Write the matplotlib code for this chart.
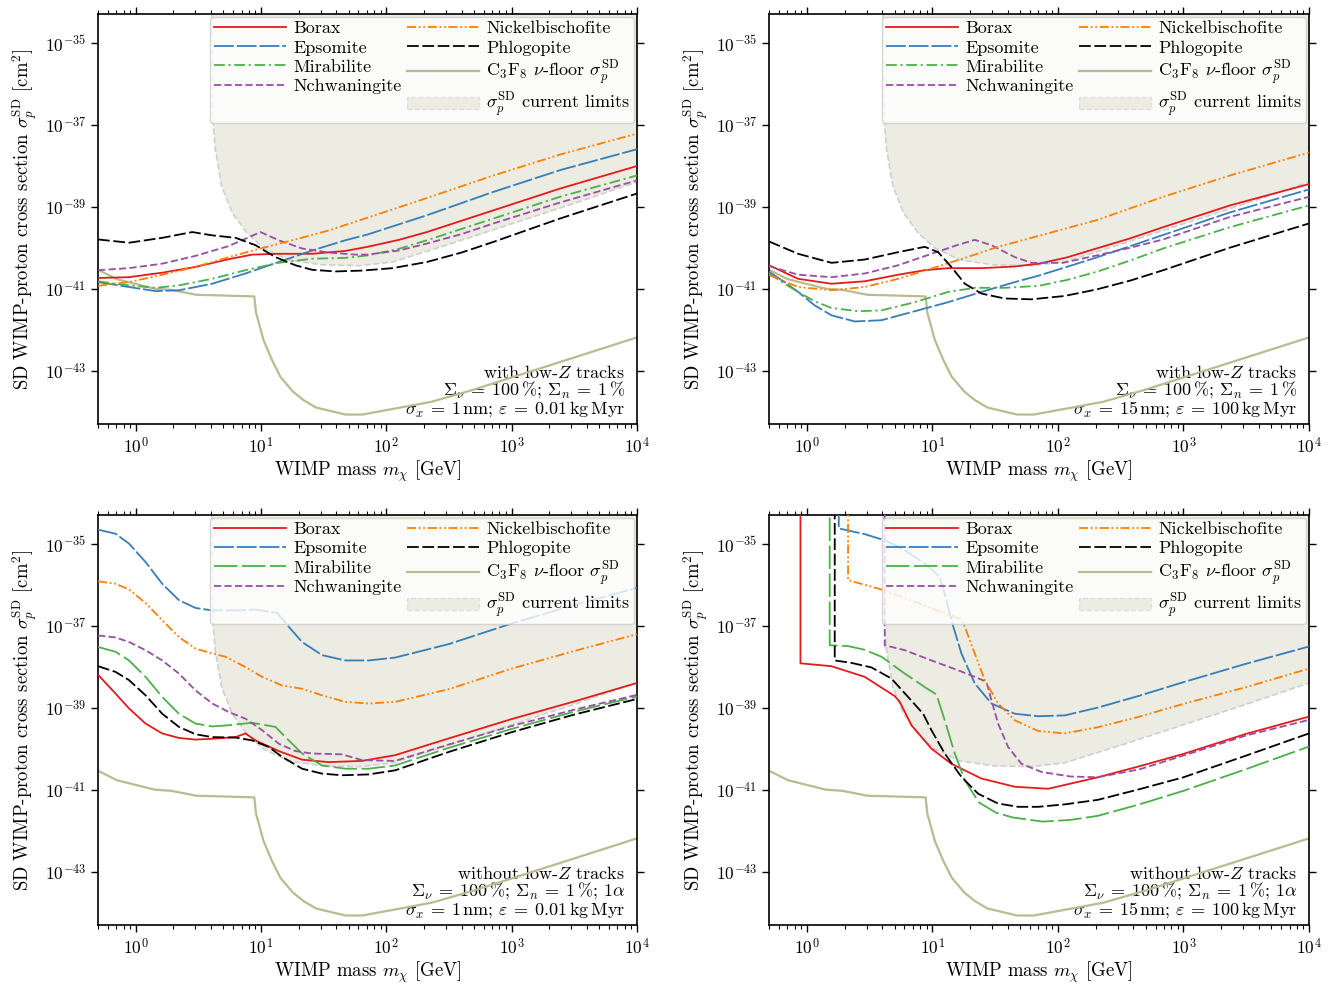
import numpy as np
import matplotlib
matplotlib.use('Agg')
import matplotlib.pyplot as plt
from matplotlib.patches import Patch
from matplotlib.ticker import NullLocator, LogLocator

# valores: log10(masa/GeV) y log10(sigma/cm^2)
TOP = -33.0  # por encima del limite del eje (lineas verticales)

floor_logm = [-0.30, -0.15, 0.15, 0.285, 0.485, 0.62, 0.947, 0.96, 1.02, 1.088, 1.155, 1.255, 1.34, 1.44, 1.674, 1.81, 2.36, 2.69, 4.0]
floor_logs = [-40.54, -40.77, -41.0, -41.03, -41.15, -41.16, -41.19, -41.58, -42.25, -42.74, -43.15, -43.51, -43.72, -43.90, -44.07, -44.07, -43.76, -43.47, -42.19]

lim_logm = [0.600, 0.609, 0.612, 0.619, 0.636, 0.686, 0.77, 0.887, 1.02, 1.22, 1.49, 1.79, 2.05, 2.5, 3.0, 3.5, 4.0]
lim_logs = [-33.0, -34.28, -35.5, -37.0, -37.61, -38.50, -39.15, -39.64, -40.01, -40.30, -40.42, -40.44, -40.35, -39.92, -39.42, -38.92, -38.40]

# arriba izquierda: con trazas low-Z, 1 nm, 0.01 kg Myr
tl_borax = [[-0.30, -0.053, 0.213, 0.478, 0.744, 0.93, 1.142, 1.408, 1.673, 1.85, 2.1, 2.324, 2.855, 3.386, 4.0],
            [-40.74, -40.72, -40.61, -40.47, -40.28, -40.17, -40.15, -40.15, -40.08, -39.98, -39.81, -39.62, -39.09, -38.56, -38.01]]
tl_epsomite = [[-0.30, -0.053, 0.159, 0.345, 0.611, 0.876, 1.142, 1.408, 1.673, 1.85, 2.324, 2.855, 3.386, 4.0],
               [-40.84, -40.96, -41.06, -41.04, -40.88, -40.63, -40.35, -40.07, -39.82, -39.68, -39.21, -38.64, -38.11, -37.60]]
tl_mirabilite = [[-0.30, -0.16, -0.053, 0.159, 0.345, 0.611, 0.876, 1.142, 1.408, 1.673, 1.85, 2.1, 2.324, 2.855, 3.386, 4.0],
                 [-40.82, -40.88, -40.92, -40.98, -40.92, -40.76, -40.55, -40.37, -40.27, -40.25, -40.19, -40.03, -39.82, -39.29, -38.76, -38.24]]
tl_nchwaningite = [[-0.30, -0.053, 0.213, 0.478, 0.744, 0.996, 1.142, 1.328, 1.541, 1.753, 1.85, 2.1, 2.324, 2.6, 2.855, 3.386, 4.0],
                   [-40.55, -40.50, -40.39, -40.20, -39.96, -39.62, -39.82, -40.02, -40.12, -40.17, -40.17, -40.07, -39.90, -39.67, -39.41, -38.90, -38.36]]
tl_nickel = [[-0.30, -0.053, 0.213, 0.478, 0.744, 1.009, 1.275, 1.541, 1.85, 2.324, 2.855, 3.386, 4.0],
             [-40.93, -40.84, -40.66, -40.47, -40.23, -40.01, -39.80, -39.58, -39.27, -38.79, -38.24, -37.73, -37.22]]
tl_phlogopite = [[-0.30, -0.053, 0.213, 0.452, 0.611, 0.797, 0.956, 1.115, 1.275, 1.408, 1.594, 1.806, 2.05, 2.324, 2.6, 2.855, 3.386, 4.0],
                 [-39.80, -39.88, -39.76, -39.62, -39.70, -39.76, -39.94, -40.23, -40.43, -40.54, -40.58, -40.56, -40.50, -40.35, -40.12, -39.86, -39.29, -38.68]]

# arriba derecha: con trazas low-Z, 15 nm, 100 kg Myr
tr_borax = [[-0.30, -0.069, 0.197, 0.462, 0.728, 0.94, 1.126, 1.392, 1.657, 1.85, 2.07, 2.308, 2.58, 2.839, 3.371, 4.0],
            [-40.43, -40.76, -40.88, -40.82, -40.66, -40.55, -40.50, -40.50, -40.46, -40.39, -40.24, -40.02, -39.77, -39.50, -38.97, -38.45]]
tr_epsomite = [[-0.30, -0.176, -0.069, 0.064, 0.197, 0.382, 0.595, 0.861, 1.126, 1.392, 1.657, 1.85, 2.07, 2.308, 2.58, 2.839, 3.371, 4.0],
               [-40.59, -40.84, -41.08, -41.41, -41.65, -41.80, -41.77, -41.55, -41.33, -41.08, -40.84, -40.68, -40.47, -40.24, -39.96, -39.69, -39.14, -38.58]]
tr_mirabilite = [[-0.30, -0.176, -0.069, 0.064, 0.197, 0.409, 0.595, 0.861, 1.126, 1.339, 1.577, 1.85, 2.07, 2.308, 2.58, 2.839, 3.371, 4.0],
                 [-40.63, -40.88, -41.08, -41.31, -41.47, -41.55, -41.53, -41.33, -41.08, -40.98, -40.98, -40.93, -40.79, -40.59, -40.31, -40.02, -39.50, -38.97]]
tr_nchwaningite = [[-0.30, -0.069, 0.197, 0.462, 0.728, 0.993, 1.206, 1.339, 1.471, 1.657, 1.79, 2.043, 2.308, 2.58, 2.839, 3.371, 4.0],
                   [-40.45, -40.66, -40.72, -40.63, -40.43, -40.15, -39.93, -39.81, -39.94, -40.23, -40.37, -40.37, -40.19, -40.00, -39.80, -39.25, -38.76]]
tr_nickel = [[-0.30, -0.069, 0.197, 0.462, 0.728, 0.993, 1.259, 1.524, 1.85, 2.308, 2.839, 3.371, 4.0],
             [-40.67, -40.96, -41.04, -40.96, -40.76, -40.51, -40.25, -39.98, -39.71, -39.33, -38.76, -38.24, -37.68]]
tr_phlogopite = [[-0.30, -0.069, 0.197, 0.462, 0.728, 0.94, 1.046, 1.152, 1.259, 1.392, 1.577, 1.79, 2.05, 2.308, 2.58, 2.839, 3.371, 4.0],
                 [-39.85, -40.15, -40.37, -40.29, -40.11, -39.98, -40.11, -40.47, -40.88, -41.12, -41.24, -41.26, -41.18, -41.02, -40.80, -40.55, -40.00, -39.41]]

# abajo izquierda: sin trazas low-Z, 1 nm, 0.01 kg Myr
bl_borax = [[-0.30, -0.16, -0.053, 0.079, 0.212, 0.345, 0.478, 0.611, 0.797, 0.876, 0.956, 1.142, 1.328, 1.54, 1.806, 2.071, 2.5, 3.0, 3.5, 4.0],
            [-38.20, -38.66, -39.02, -39.39, -39.63, -39.74, -39.78, -39.76, -39.72, -39.63, -39.80, -40.06, -40.27, -40.33, -40.30, -40.16, -39.75, -39.28, -38.85, -38.40]]
bl_epsomite = [[-0.30, -0.16, -0.053, 0.079, 0.212, 0.345, 0.478, 0.611, 0.797, 0.956, 1.129, 1.222, 1.328, 1.487, 1.673, 1.859, 2.071, 2.5, 3.0, 3.5, 4.0],
               [-34.66, -34.76, -35.0, -35.45, -35.98, -36.38, -36.57, -36.63, -36.63, -36.61, -36.69, -37.03, -37.40, -37.72, -37.85, -37.85, -37.78, -37.45, -36.95, -36.50, -36.08]]
bl_mirabilite = [[-0.30, -0.16, -0.053, 0.079, 0.212, 0.345, 0.478, 0.611, 0.744, 0.929, 1.115, 1.222, 1.328, 1.487, 1.673, 1.859, 2.071, 2.5, 3.0, 3.5, 4.0],
                 [-37.52, -37.64, -37.85, -38.25, -38.74, -39.15, -39.39, -39.46, -39.43, -39.37, -39.47, -39.80, -40.12, -40.41, -40.49, -40.49, -40.41, -39.98, -39.52, -39.10, -38.73]]
bl_nchwaningite = [[-0.30, -0.16, -0.053, 0.079, 0.212, 0.345, 0.478, 0.611, 0.744, 0.876, 1.009, 1.142, 1.275, 1.407, 1.646, 1.806, 2.071, 2.5, 3.0, 3.5, 4.0],
                   [-37.24, -37.29, -37.40, -37.60, -37.85, -38.17, -38.58, -38.90, -39.11, -39.27, -39.55, -39.88, -40.06, -40.12, -40.14, -40.28, -40.30, -39.90, -39.45, -39.05, -38.69]]
bl_nickel = [[-0.30, -0.16, -0.053, 0.079, 0.212, 0.345, 0.478, 0.611, 0.717, 0.876, 1.009, 1.168, 1.328, 1.487, 1.673, 1.859, 2.071, 2.5, 3.0, 3.5, 4.0],
             [-35.92, -35.98, -36.12, -36.45, -36.87, -37.28, -37.56, -37.68, -37.76, -38.01, -38.25, -38.46, -38.54, -38.70, -38.86, -38.90, -38.86, -38.55, -38.05, -37.62, -37.21]]
bl_phlogopite = [[-0.30, -0.16, -0.053, 0.079, 0.212, 0.345, 0.478, 0.611, 0.797, 0.929, 1.062, 1.168, 1.328, 1.487, 1.646, 1.859, 2.071, 2.5, 3.0, 3.5, 4.0],
                 [-37.99, -38.13, -38.33, -38.70, -39.15, -39.47, -39.65, -39.72, -39.73, -39.80, -39.96, -40.20, -40.49, -40.61, -40.65, -40.63, -40.53, -40.08, -39.60, -39.17, -38.79]]

# abajo derecha: sin trazas low-Z, 15 nm, 100 kg Myr
br_borax = [[-0.05, -0.05, 0.196, 0.462, 0.701, 0.741, 0.834, 0.993, 1.152, 1.391, 1.657, 1.923, 2.318, 2.65, 3.0, 3.5, 4.0],
            [TOP, -37.92, -37.99, -38.25, -38.72, -38.86, -39.43, -40.0, -40.37, -40.73, -40.93, -40.98, -40.70, -40.43, -40.13, -39.64, -39.22]]
br_epsomite = [[0.255, 0.255, 0.462, 0.621, 0.781, 0.94, 1.059, 1.099, 1.152, 1.232, 1.338, 1.471, 1.657, 1.843, 2.055, 2.318, 2.65, 3.0, 3.5, 4.0],
               [TOP, -34.63, -34.77, -34.92, -35.16, -35.49, -35.81, -36.22, -36.87, -37.68, -38.41, -38.90, -39.15, -39.21, -39.19, -39.00, -38.71, -38.38, -37.93, -37.51]]
br_mirabilite = [[0.183, 0.183, 0.329, 0.462, 0.595, 0.781, 0.94, 1.033, 1.099, 1.179, 1.259, 1.37, 1.506, 1.641, 1.878, 2.1, 2.318, 2.65, 3.0, 3.5, 4.0],
                 [TOP, -37.48, -37.50, -37.59, -37.76, -38.17, -38.50, -38.68, -39.31, -40.12, -40.77, -41.31, -41.56, -41.68, -41.78, -41.74, -41.64, -41.36, -41.03, -40.50, -39.95]]
br_nchwaningite = [[0.621, 0.621, 0.781, 0.993, 1.206, 1.338, 1.431, 1.471, 1.524, 1.604, 1.710, 1.870, 2.1, 2.318, 2.657, 3.0, 3.5, 4.0],
                   [TOP, -37.48, -37.60, -37.85, -38.09, -38.25, -38.37, -38.82, -39.39, -39.96, -40.37, -40.57, -40.68, -40.70, -40.50, -40.17, -39.68, -39.30]]
br_nickel = [[0.329, 0.329, 0.595, 0.860, 1.073, 1.232, 1.259, 1.338, 1.418, 1.524, 1.657, 1.843, 2.055, 2.318, 2.65, 3.0, 3.5, 4.0],
             [TOP, -35.89, -36.12, -36.42, -36.67, -36.85, -37.03, -37.68, -38.33, -38.90, -39.31, -39.57, -39.63, -39.48, -39.22, -38.91, -38.50, -38.05]]
br_phlogopite = [[0.223, 0.223, 0.356, 0.515, 0.674, 0.807, 0.927, 0.993, 1.099, 1.232, 1.365, 1.524, 1.684, 1.843, 2.055, 2.318, 2.65, 3.0, 3.5, 4.0],
                 [TOP, -37.85, -37.91, -38.02, -38.29, -38.74, -39.15, -39.55, -40.12, -40.69, -41.10, -41.34, -41.42, -41.42, -41.36, -41.25, -40.99, -40.70, -40.17, -39.63]]

minerales = ['Borax', 'Epsomite', 'Mirabilite', 'Nchwaningite', 'Nickelbischofite', 'Phlogopite']

linea_sigma = r'$\Sigma_\nu\:=\:100\,\%$; $\Sigma_n\:=\:1\,\%$'
textos = {
    'tl': ['with low-$Z$ tracks', linea_sigma,
           r'$\sigma_x\:=\:1\,\mathrm{nm}$; $\varepsilon\:=\:0.01\,\mathrm{kg\,Myr}$'],
    'tr': ['with low-$Z$ tracks', linea_sigma,
           r'$\sigma_x\:=\:15\,\mathrm{nm}$; $\varepsilon\:=\:100\,\mathrm{kg\,Myr}$'],
    'bl': ['without low-$Z$ tracks', linea_sigma + r'; $1\alpha$',
           r'$\sigma_x\:=\:1\,\mathrm{nm}$; $\varepsilon\:=\:0.01\,\mathrm{kg\,Myr}$'],
    'br': ['without low-$Z$ tracks', linea_sigma + r'; $1\alpha$',
           r'$\sigma_x\:=\:15\,\mathrm{nm}$; $\varepsilon\:=\:100\,\mathrm{kg\,Myr}$'],
}

paneles = {
    'tl': [tl_borax, tl_epsomite, tl_mirabilite, tl_nchwaningite, tl_nickel, tl_phlogopite],
    'tr': [tr_borax, tr_epsomite, tr_mirabilite, tr_nchwaningite, tr_nickel, tr_phlogopite],
    'bl': [bl_borax, bl_epsomite, bl_mirabilite, bl_nchwaningite, bl_nickel, bl_phlogopite],
    'br': [br_borax, br_epsomite, br_mirabilite, br_nchwaningite, br_nickel, br_phlogopite],
}

plt.rcParams['font.family'] = 'serif'
plt.rcParams['font.serif'] = ['cmr10']
plt.rcParams['mathtext.fontset'] = 'cm'
plt.rcParams['axes.formatter.use_mathtext'] = True
plt.rcParams['font.size'] = 13

colores = ['#e41a1c', '#377eb8', '#4daf4a', '#984ea3', '#ff7f00', 'black']
estilos_con = ['-', (0, (11, 1.6)), (0, (6, 2, 1.2, 2)), (0, (4, 1.8)), (0, (5, 1.5, 1, 1.5, 1, 1.5)), (0, (6.5, 2))]
estilos_sin = ['-', (0, (11, 1.6)), (0, (13, 2.5)), (0, (4, 1.8)), (0, (5, 1.5, 1, 1.5, 1, 1.5)), (0, (6.5, 2))]
color_piso = '#bcba90'
color_lim = '#ecece3'

fig = plt.figure(figsize=(13.38, 9.84), dpi=100)
posiciones = {
    'tl': [0.0732, 0.5691, 0.4028, 0.4167],
    'tr': [0.5747, 0.5691, 0.4036, 0.4167],
    'bl': [0.0732, 0.0600, 0.4028, 0.4167],
    'br': [0.5747, 0.0600, 0.4036, 0.4167],
}

for clave, pos in posiciones.items():
    ax = fig.add_axes(pos)
    estilos = estilos_con if clave[0] == 't' else estilos_sin

    # region de limites actuales
    xs = list(10 ** np.array(lim_logm)) + [1e4, 10 ** lim_logm[0]]
    ys = list(10 ** np.array(lim_logs)) + [1e-30, 1e-30]
    ax.fill(xs, ys, facecolor=color_lim, edgecolor='#cfcfcf', linestyle='--', linewidth=1.2, zorder=1)

    handles = []
    for nombre, curva, c, ls in zip(minerales, paneles[clave], colores, estilos):
        h, = ax.plot(10 ** np.array(curva[0]), 10 ** np.array(curva[1]), color=c, linestyle=ls,
                     linewidth=1.3, label=nombre, zorder=3)
        handles.append(h)

    h_piso, = ax.plot(10 ** np.array(floor_logm), 10 ** np.array(floor_logs), color=color_piso,
                      linewidth=1.6, zorder=2, label=r'C$_3$F$_8$ $\nu$-floor $\sigma_p^{\mathrm{SD}}$')
    handles.append(h_piso)
    handles.append(Patch(facecolor=color_lim, edgecolor='#e0e0e0', linestyle='--',
                         label=r'$\sigma_p^{\mathrm{SD}}$ current limits'))

    ax.set_xscale('log')
    ax.set_yscale('log')
    ax.set_xlim(0.5, 1e4)
    ax.set_ylim(5e-45, 5e-35)
    ax.set_yticks([1e-43, 1e-41, 1e-39, 1e-37, 1e-35])
    ax.yaxis.set_minor_locator(NullLocator())
    ax.xaxis.set_minor_locator(LogLocator(base=10, subs=np.arange(2, 10), numticks=20))
    ax.tick_params(which='both', direction='out', top=True, right=True, labelsize=12.5)
    ax.tick_params(which='major', length=5, width=1.0)
    ax.tick_params(which='minor', length=3, width=0.8)
    for s in ax.spines.values():
        s.set_linewidth(1.2)

    ax.set_xlabel(r'WIMP mass $m_\chi$ [GeV]', fontsize=13.5, labelpad=1.5)
    ax.set_ylabel(r'SD WIMP-proton cross section $\sigma_p^{\mathrm{SD}}$ [cm$^2$]', fontsize=13.5)

    ax.text(0.978, 0.012, '\n'.join(textos[clave]), transform=ax.transAxes, ha='right', va='bottom',
            multialignment='right', fontsize=13, linespacing=0.92, zorder=1)

    ax.legend(handles=handles, loc='upper right', ncol=2, fontsize=13, handlelength=4.0,
              handletextpad=0.4, columnspacing=0.3, labelspacing=0.2, borderaxespad=0.15,
              borderpad=0.22)

plt.savefig('out.png', dpi=100)
